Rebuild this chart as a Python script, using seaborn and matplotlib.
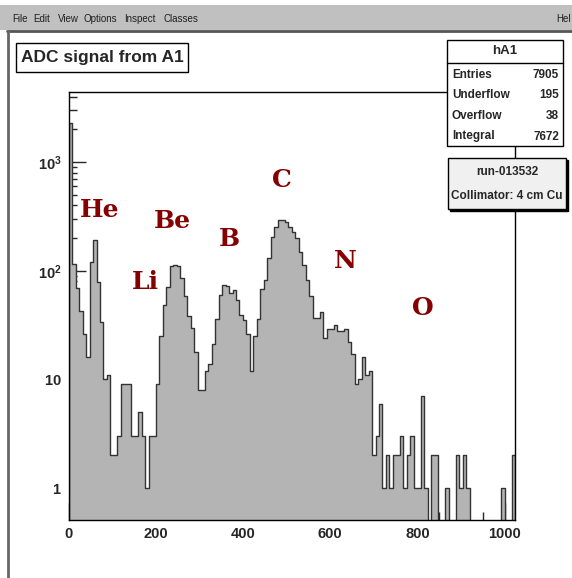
import numpy as np
import pandas as pd
import matplotlib
matplotlib.use("Agg")
import matplotlib.pyplot as plt
import seaborn as sns
from matplotlib.patches import Rectangle
from matplotlib.lines import Line2D
from matplotlib.ticker import LogLocator, FixedLocator, FixedFormatter, MultipleLocator, NullFormatter

# ---------------------------------------------------------------
# DATA (ADC histogram hA1, 128 bins of width 8 from 0 to 1024)
# ---------------------------------------------------------------
BIN_WIDTH = 8
ADC_MAX = 1024
counts = [
    2300, 115, 69, 43, 26, 16, 121, 191, 79, 34, 10, 11, 2, 2, 3, 9,
    9, 9, 3, 3, 5, 3, 1, 3, 3, 9, 25, 48, 71, 110, 114, 110,
    85, 58, 38, 30, 18, 8, 8, 12, 14, 21, 36, 60, 74, 72, 63, 66,
    54, 39, 35, 26, 12, 25, 36, 68, 83, 130, 204, 254, 295, 292, 282, 254,
    228, 198, 149, 112, 83, 58, 37, 37, 42, 24, 29, 29, 32, 28, 28, 29,
    22, 17, 9, 10, 16, 11, 12, 2, 3, 6, 1, 2, 1, 2, 2, 3,
    1, 2, 3, 1, 1, 7, 1, 0, 2, 2, 0, 0, 1, 0, 0, 2,
    1, 2, 1, 0, 0, 0, 0, 0, 0, 0, 0, 0, 1, 0, 0, 2,
]

element_names = ["He", "Li", "Be", "B", "C", "N", "O"]
element_adc = [72, 176, 237, 368, 490, 635, 812]
element_level = [360, 79, 285, 195, 680, 122, 45]

stats_names = ["Entries", "Underflow", "Overflow", "Integral"]
stats_values = ["7905", "195", "38", "7672"]
menu_items = ["File", "Edit", "View", "Options", "Inspect", "Classes"]
menu_x = [12, 33, 58, 84, 124, 164]

xtick_values = [0, 200, 400, 600, 800, 1000]
ytick_values = [1, 10, 100, 1000]
ytick_labels = [r"$\mathbf{1}$", r"$\mathbf{10}$", r"$\mathbf{10^{2}}$", r"$\mathbf{10^{3}}$"]

FILL = "#b4b4b4"
EDGE = "#333333"
RED = "#850000"

W, H = 572, 578

sns.set_style("white")
plt.rcParams["font.family"] = ["Liberation Sans", "DejaVu Sans"]
plt.rcParams["mathtext.fontset"] = "custom"
plt.rcParams["mathtext.bf"] = "Liberation Sans:bold"
plt.rcParams["mathtext.rm"] = "Liberation Sans:bold"


def fx(px):
    return px / W


def fy(py):
    return 1 - py / H


def box(fig, x0, y0, x1, y1, fc="white", ec="black", lw=1.0, z=5):
    r = Rectangle((fx(x0), fy(y1)), fx(x1) - fx(x0), fy(y0) - fy(y1),
                  transform=fig.transFigure, facecolor=fc, edgecolor=ec,
                  linewidth=lw, zorder=z)
    fig.add_artist(r)


def hline(fig, x0, x1, y, color="black", lw=1.0, z=6):
    fig.add_artist(Line2D([fx(x0), fx(x1)], [fy(y), fy(y)], transform=fig.transFigure,
                          color=color, linewidth=lw, zorder=z))


def vline(fig, x, y0, y1, color="black", lw=1.0, z=6):
    fig.add_artist(Line2D([fx(x), fx(x)], [fy(y0), fy(y1)], transform=fig.transFigure,
                          color=color, linewidth=lw, zorder=z))


fig = plt.figure(figsize=(W / 100, H / 100), dpi=100)
fig.patch.set_facecolor("white")

# -----> ROOT window chrome
box(fig, 0, 5, W, 30, fc="#c0c0c0", ec="none", z=1)
for name, x in zip(menu_items, menu_x):
    fig.text(fx(x), fy(19), name, fontsize=7, color="#202020", va="center", ha="left")
fig.text(fx(571), fy(19), "Hel", fontsize=7, color="#202020", va="center", ha="right")
hline(fig, 7, W, 31, color="#555555", lw=2.0, z=2)
vline(fig, 7.5, 31, H, color="#666666", lw=2.0, z=2)

# -----> histogram
centers = [BIN_WIDTH * i + BIN_WIDTH / 2 for i in range(len(counts))]
df = pd.DataFrame({"adc": centers, "counts": counts})

ax = fig.add_axes([fx(68.6), fy(520), fx(515) - fx(68.6), fy(92) - fy(520)])
sns.histplot(data=df, x="adc", weights="counts", binwidth=BIN_WIDTH, binrange=(0, ADC_MAX),
             element="step", fill=True, color=FILL, edgecolor=EDGE, linewidth=1.0,
             alpha=1, ax=ax)
ax.set_yscale("log")
ax.set_xlim(0, ADC_MAX)
ax.set_ylim(0.51, 4400)
ax.set_xlabel("")
ax.set_ylabel("")

for s in ax.spines.values():
    s.set_linewidth(1.0)
    s.set_color("black")

ax.xaxis.set_major_locator(FixedLocator(xtick_values))
ax.xaxis.set_major_formatter(FixedFormatter([str(v) for v in xtick_values]))
ax.xaxis.set_minor_locator(MultipleLocator(50))
ax.yaxis.set_major_locator(FixedLocator(ytick_values))
ax.yaxis.set_major_formatter(FixedFormatter(ytick_labels))
ax.yaxis.set_minor_locator(LogLocator(base=10, subs=np.arange(2, 10)))
ax.yaxis.set_minor_formatter(NullFormatter())
ax.tick_params(which="major", direction="in", length=12, width=1.0, labelsize=10.5,
               bottom=True, left=True, top=False, right=False, pad=5)
ax.tick_params(which="minor", direction="in", length=6, width=1.0,
               bottom=True, left=True, top=False, right=False)
for lab in ax.get_xticklabels() + ax.get_yticklabels():
    lab.set_fontweight("bold")

# -----> element labels
for name, xa, ya in zip(element_names, element_adc, element_level):
    ax.text(xa, ya, name, color=RED, fontsize=18, fontweight="bold",
            family=["DejaVu Serif"], ha="center", va="center")

# -----> title box
box(fig, 16, 43, 188, 72, z=5)
fig.text(fx(102), fy(57.5), "ADC signal from A1", fontsize=12.5, fontweight="bold",
         ha="center", va="center", zorder=7)

# -----> stats box
box(fig, 447, 40, 563, 146, z=5)
hline(fig, 447, 563, 63, z=6)
fig.text(fx(505), fy(51.5), "hA1", fontsize=9.5, fontweight="bold",
         ha="center", va="center", zorder=7)
for i, (n, v) in enumerate(zip(stats_names, stats_values)):
    yy = 75 + i * 20.5
    fig.text(fx(452), fy(yy), n, fontsize=8.5, fontweight="bold", ha="left", va="center", zorder=7)
    fig.text(fx(559), fy(yy), v, fontsize=8.5, fontweight="bold", ha="right", va="center", zorder=7)

# -----> run info box with shadow
box(fig, 450, 160, 568, 211, fc="black", ec="black", z=5)
box(fig, 448, 158, 566, 209, fc="#f0f0f0", ec="black", z=6)
fig.text(fx(507), fy(172), "run-013532", fontsize=8.5, fontweight="bold",
         ha="center", va="center", zorder=7)
fig.text(fx(507), fy(196), "Collimator: 4 cm Cu", fontsize=8.5, fontweight="bold",
         ha="center", va="center", zorder=7)

fig.savefig("out.png", dpi=100)
